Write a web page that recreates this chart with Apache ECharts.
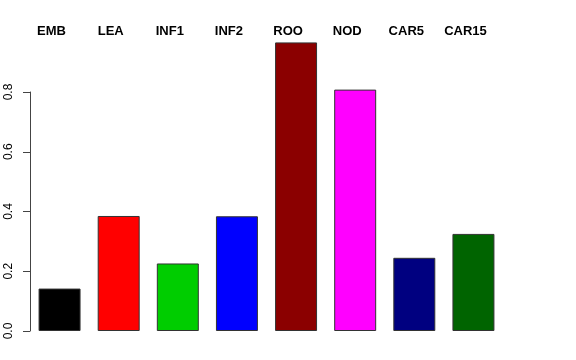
<!DOCTYPE html>
<html>
<head>
<meta charset="utf-8">
<script src="https://cdn.jsdelivr.net/npm/echarts@6/dist/echarts.min.js"></script>
<style>html,body{margin:0;padding:0;background:#fff}#c{width:576px;height:360px}</style>
</head>
<body>
<div id="c"></div>
<script>
const categories = ['EMB','LEA','INF1','INF2','ROO','NOD','CAR5','CAR15'];
const values = [0.142, 0.385, 0.226, 0.384, 0.966, 0.808, 0.245, 0.325];
const colors = ['#000000','#FF0000','#00CD00','#0000FF','#8B0000','#FF00FF','#000080','#006400'];
const yTicks = [0, 0.2, 0.4, 0.6, 0.8];

const chart = echarts.init(document.getElementById('c'), null, {renderer: 'canvas'});
chart.setOption({
  animation: false,
  backgroundColor: '#ffffff',
  grid: {left: 30, right: 73, top: 92, bottom: 29, containLabel: false},
  xAxis: {
    type: 'category',
    data: categories,
    position: 'top',
    axisLine: {show: false},
    axisTick: {show: false},
    axisLabel: {
      margin: 54,
      fontFamily: 'Liberation Sans, Arial, sans-serif',
      fontWeight: 'bold',
      fontSize: 13,
      color: '#000',
      padding: [0, 16, 0, 0],
      interval: 0
    }
  },
  yAxis: {
    type: 'value',
    min: 0,
    max: 0.8,
    interval: 0.2,
    axisLine: {show: true, lineStyle: {color: '#444', width: 1}},
    axisTick: {show: true, length: 7, lineStyle: {color: '#444'}},
    splitLine: {show: false},
    axisLabel: {
      rotate: 90,
      margin: 15,
      fontFamily: 'Liberation Sans, Arial, sans-serif',
      fontSize: 12,
      color: '#000',
      formatter: v => yTicks.includes(Math.round(v*10)/10) ? v.toFixed(1) : ''
    }
  },
  series: [{
    type: 'bar',
    clip: false,
    barCategoryGap: '29%',
    data: values.map((v, i) => ({value: v, itemStyle: {color: colors[i]}})),
    itemStyle: {borderColor: '#333', borderWidth: 1}
  }]
});
</script>
</body>
</html>
